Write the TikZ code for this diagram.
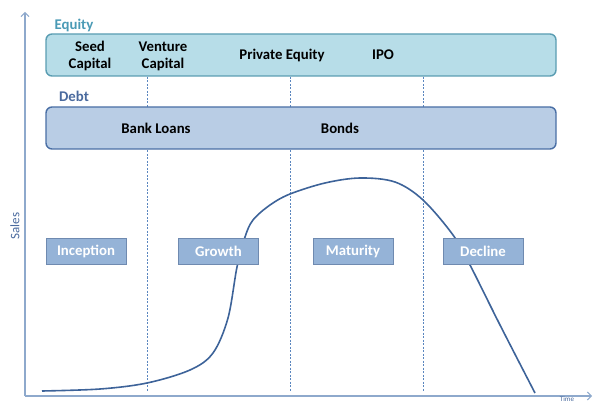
\documentclass[tikz,border=0pt]{standalone}
\usepackage{fontspec}
\setmainfont{Carlito}
\usetikzlibrary{arrows.meta}
\definecolor{axiscol}{HTML}{8EA9CC}
\definecolor{eqtext}{HTML}{4A9AB5}
\definecolor{eqfill}{HTML}{B7DDE8}
\definecolor{eqdraw}{HTML}{5A9DB2}
\definecolor{debttext}{HTML}{4A6A9E}
\definecolor{debtfill}{HTML}{B9CDE5}
\definecolor{debtdraw}{HTML}{4A6FA5}
\definecolor{stagefill}{HTML}{95B3D7}
\definecolor{stagedraw}{HTML}{6F8AB0}
\definecolor{dashcol}{HTML}{5A86BF}
\definecolor{curvecol}{HTML}{3D6399}
\tikzset{
  bigbox/.style={rounded corners=6pt, line width=1.4pt, minimum width=510pt, minimum height=42pt, inner sep=0pt},
  stagebox/.style={fill=stagefill, draw=stagedraw, line width=0.9pt, minimum width=80pt, minimum height=26pt, inner sep=0pt, text=white, font=\fontsize{14.8}{16}\selectfont\bfseries},
  lbl/.style={font=\fontsize{14.8}{17}\selectfont\bfseries, inner sep=0pt, align=center, text=black},
  seclbl/.style={font=\fontsize{14.8}{16}\selectfont\bfseries, inner sep=0pt},
  divider/.style={draw=dashcol, line width=0.6pt, dash pattern=on 2pt off 1.5pt},
  axisline/.style={draw=axiscol, line width=1.3pt, -{Straight Barb[length=4pt,width=8pt,line width=1pt]}}
}
\begin{document}
\begin{tikzpicture}[x=1pt,y=-1pt]
\useasboundingbox (0,0) rectangle (594,403);
% axes
\coordinate (O) at (25,396);
\coordinate (ytip) at (25,12);
\coordinate (xtip) at (592,396);
\draw[axisline] (O) -- (ytip);
\draw[axisline] (O) -- (xtip);
\node[rotate=90, text=debttext, font=\fontsize{13}{14}\selectfont, inner sep=0pt] (sales) at (15,226) {Sales};
\node[text=debttext, font=\fontsize{7}{8}\selectfont, inner sep=0pt, anchor=south] (time) at (567,401.5) {Time};
% dividers
\foreach \x/\n in {147/a,290/b,423/c}{
  \coordinate (d\n1) at (\x,77);
  \coordinate (d\n2) at (\x,392);
  \draw[divider] (d\n1) -- (d\n2);
}
% curve
\draw[curvecol, line width=1.6pt] plot[smooth, tension=0.55] coordinates {
 (42,391) (100,389) (147,383) (190,370) (213,353) (228,318) (237,267) (245,237) (253,220) (270,205) (290,194) (325,183) (360,178) (395,182) (423,200) (453,235) (470,265) (500,325) (535,393)};
% equity
\node[seclbl, text=eqtext] (eqlbl) at (74,25) {Equity};
\node[bigbox, fill=eqfill, draw=eqdraw] (equity) at (301,55) {};
\node[lbl] (seed) at (90,56) {Seed\\Capital};
\node[lbl] (venture) at (163,56) {Venture\\Capital};
\node[lbl] (pe) at (282,55) {Private Equity};
\node[lbl] (ipo) at (383,55) {IPO};
% debt
\node[seclbl, text=debttext] (debtlbl) at (74,96) {Debt};
\node[bigbox, fill=debtfill, draw=debtdraw] (debt) at (301,128) {};
\node[lbl] (bank) at (156,128) {Bank Loans};
\node[lbl] (bonds) at (340,128) {Bonds};
% stages
\node[stagebox] (inception) at (86,251.5) {Inception};
\node[stagebox] (growth) at (218.5,251.5) {Growth};
\node[stagebox] (maturity) at (353,251.5) {Maturity};
\node[stagebox] (decline) at (483,251.5) {Decline};
\end{tikzpicture}
\end{document}
